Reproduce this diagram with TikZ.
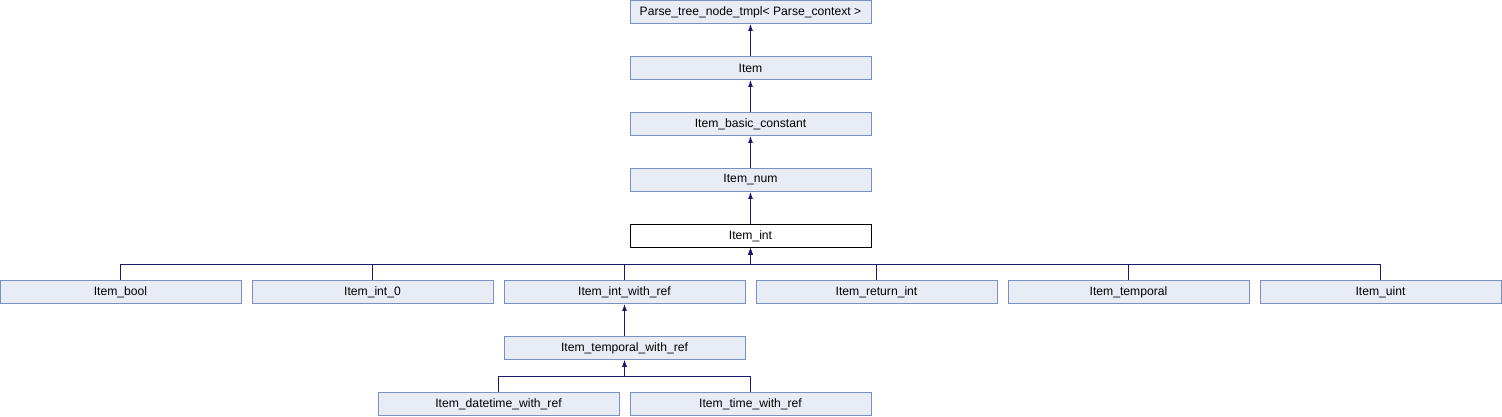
\documentclass[tikz,border=0pt]{standalone}
\usepackage{fontspec}
\setmainfont{Liberation Sans}
\usetikzlibrary{arrows.meta}
\definecolor{boxfill}{HTML}{E8ECF5}
\definecolor{boxline}{HTML}{7B90C4}
\definecolor{edgecol}{HTML}{191970}
\tikzset{
  cls/.style={draw=boxline, fill=boxfill, line width=0.9bp, minimum width=241bp, minimum height=23bp, inner sep=0pt, font=\fontsize{12.2}{14}\selectfont},
  cur/.style={cls, draw=black, fill=white},
  edge/.style={draw=edgecol, line width=1bp, -{Latex[length=7bp,width=5bp]}}
}
\begin{document}
\begin{tikzpicture}[x=1bp,y=-1bp]
\useasboundingbox (0,0) rectangle (1502,416);
\node[cls] (ptn) at (750.5,12) {Parse\_tree\_node\_tmpl< Parse\_context >};
\node[cls] (item) at (750.5,68) {Item};
\node[cls] (ibc) at (750.5,124) {Item\_basic\_constant};
\node[cls] (inum) at (750.5,180) {Item\_num};
\node[cur] (iint) at (750.5,236) {Item\_int};
\node[cls] (ibool) at (120.5,292) {Item\_bool};
\node[cls] (iint0) at (372.5,292) {Item\_int\_0};
\node[cls] (iiwr) at (624.5,292) {Item\_int\_with\_ref};
\node[cls] (iret) at (876.5,292) {Item\_return\_int};
\node[cls] (itemp) at (1128.5,292) {Item\_temporal};
\node[cls] (iuint) at (1380.5,292) {Item\_uint};
\node[cls] (itwr) at (624.5,348) {Item\_temporal\_with\_ref};
\node[cls] (idtwr) at (498.5,404) {Item\_datetime\_with\_ref};
\node[cls] (itmwr) at (750.5,404) {Item\_time\_with\_ref};
\coordinate (bus1) at (750.5,264);
\coordinate (bus2) at (624.5,376);
\draw[edge] (item) -- (ptn);
\draw[edge] (ibc) -- (item);
\draw[edge] (inum) -- (ibc);
\draw[edge] (iint) -- (inum);
\foreach \c in {ibool,iint0,iiwr,iret,itemp,iuint}
  \draw[edge] (\c.north) |- (bus1) -- (iint.south);
\draw[edge] (itwr) -- (iiwr);
\foreach \c in {idtwr,itmwr}
  \draw[edge] (\c.north) |- (bus2) -- (itwr.south);
\end{tikzpicture}
\end{document}
